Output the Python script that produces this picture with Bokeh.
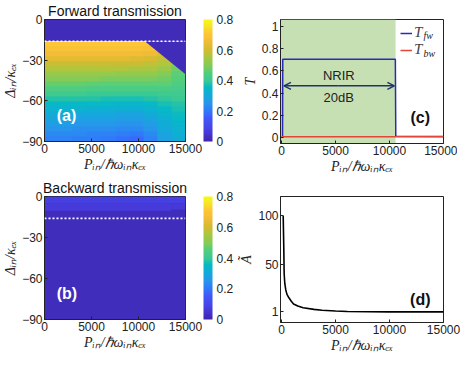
import numpy as np
from bokeh.plotting import figure
from bokeh.models import (Range1d, LinearColorMapper, ColorBar, FixedTicker, Span, Label, Title,
                          BoxAnnotation, Arrow, OpenHead, Legend, LegendItem, ColumnDataSource,
                          LinearAxis)
from bokeh.layouts import gridplot
from bokeh.transform import transform
from bokeh.embed import file_html
from bokeh.resources import INLINE

# ---------------- data ----------------
x_ticks = [0, 5000, 10000, 15000]
delta_ticks = [-90, -60, -30, 0]
cbar_ticks = [0, 0.2, 0.4, 0.6, 0.8]
t_ticks = [0, 0.2, 0.4, 0.6, 0.8, 1]
a_ticks = [1, 50, 100]

threshold_delta = -16          # white dotted line in (a) and (b)

# (a) forward transmission
fw_dark_level = 0.02           # value above the threshold and inside the wedge
fw_grid_top = -16
fw_grid_bottom = -90
fw_grid_cols_p = [0, 15000]    # extent of the grid in P_in
# rows from top (-16) to bottom (-90); 10 columns across 0..15000
fw_grid = [
    [.71, .71, .71, .71, .71, .71, .71, .70, .66, .60],
    [.69, .69, .69, .69, .69, .69, .69, .68, .64, .58],
    [.66, .66, .66, .66, .66, .66, .66, .65, .62, .56],
    [.63, .63, .63, .63, .63, .63, .62, .61, .58, .53],
    [.59, .59, .59, .59, .59, .59, .59, .58, .56, .50],
    [.56, .56, .56, .56, .56, .56, .55, .55, .53, .48],
    [.53, .53, .53, .53, .53, .52, .52, .52, .50, .46],
    [.50, .50, .50, .50, .49, .49, .49, .49, .48, .45],
    [.47, .47, .47, .46, .46, .46, .46, .46, .46, .44],
    [.44, .44, .44, .43, .43, .43, .43, .43, .43, .42],
    [.41, .41, .41, .40, .40, .40, .40, .40, .41, .41],
    [.38, .38, .38, .38, .37, .37, .37, .38, .39, .40],
    [.35, .35, .35, .35, .35, .34, .34, .35, .37, .38],
    [.33, .33, .33, .32, .32, .32, .32, .33, .35, .37],
    [.31, .31, .30, .30, .30, .29, .29, .31, .34, .36],
    [.29, .29, .28, .28, .28, .27, .27, .29, .32, .35],
    [.27, .27, .26, .26, .26, .25, .25, .27, .31, .34],
    [.25, .25, .24, .24, .24, .23, .23, .25, .30, .33],
    [.23, .23, .23, .22, .22, .21, .20, .23, .29, .32],
    [.22, .22, .21, .21, .20, .19, .18, .22, .28, .31],
]
wedge_p = [10670, 15000, 15000]
wedge_delta = [-16, -40.3, -16]

# (b) backward transmission (regions of nearly constant value)
bw_left = [0, 0, 0, 13500]
bw_right = [15000, 15000, 13500, 15000]
bw_bottom = [-90, -5, -10.5, -9.5]
bw_top = [0, 0, -5, -5]
bw_value = [0.022, 0.08, 0.065, 0.06]

# (c) transmissions
tfw_p = [0, 90, 110, 10540, 10580, 15000]
tfw = [0.0, 0.0, 0.705, 0.705, 0.01, 0.008]
tbw_p = [0, 15000]
tbw = [0.004, 0.004]
nrir_start, nrir_end = -100, 10560

# (d) amplification factor
a_p = [150, 200, 240, 300, 390, 500, 680, 900, 1110, 1500, 2000, 3000, 3750, 5000, 6100, 8000, 10000, 12000, 15000]
a_val = [100, 70, 40, 30, 23.6, 19, 15.5, 12, 9.1, 7, 5.2, 3.5, 2.6, 1.8, 1.3, 1.1, 1.0, 1.0, 1.0]

# ---------------- palette (parula-like) ----------------
anch = [
    (0.000, (0.2422, 0.1504, 0.6603)), (0.0635, (0.2706, 0.2147, 0.8364)),
    (0.127, (0.2803, 0.2782, 0.9221)), (0.190, (0.2586, 0.3408, 0.9790)),
    (0.254, (0.1847, 0.4796, 0.9810)), (0.317, (0.1540, 0.5902, 0.9218)),
    (0.381, (0.0704, 0.6700, 0.8492)), (0.444, (0.0238, 0.7238, 0.7702)),
    (0.492, (0.2161, 0.7843, 0.5923)), (0.571, (0.3402, 0.8083, 0.4738)),
    (0.619, (0.5044, 0.7993, 0.3480)), (0.698, (0.6795, 0.7785, 0.2438)),
    (0.746, (0.8185, 0.7327, 0.1882)), (0.825, (0.9500, 0.7390, 0.2160)),
    (0.889, (0.9966, 0.7785, 0.2165)), (0.952, (0.9597, 0.9028, 0.1528)),
    (1.000, (0.9769, 0.9839, 0.0805)),
]
ap = np.array([a[0] for a in anch]); ac = np.array([a[1] for a in anch])
pal = []
for f in np.linspace(0, 1, 256):
    rgb = [np.interp(f, ap, ac[:, k]) for k in range(3)]
    pal.append("#%02x%02x%02x" % tuple(int(round(255 * c)) for c in rgb))

mapper = LinearColorMapper(palette=pal, low=0, high=0.8)

TICK_FONT = "Liberation Sans"
LAB_FONT = "Liberation Serif"
XLABEL = "P\u1d62\u2099/\u210f\u03c9\u1d62\u2099\u03ba\u2091\u2093"
DLABEL = "\u0394\u1d62\u2099/\u03ba\u2091\u2093"


def style(p, xlabel, ylabel):
    p.outline_line_color = "#222222"
    p.grid.visible = False
    for ax in (p.xaxis[0], p.yaxis[0]):
        ax.major_label_text_font = TICK_FONT
        ax.major_label_text_font_size = "12px"
        ax.major_label_text_color = "#222222"
        ax.axis_label_text_font = LAB_FONT
        ax.axis_label_text_font_style = "italic"
        ax.axis_label_text_font_size = "14px"
        ax.axis_label_text_color = "#222222"
        ax.major_tick_in = 3
        ax.major_tick_out = 0
        ax.minor_tick_line_color = None
        ax.axis_line_color = "#222222"
        ax.major_tick_line_color = "#222222"
        ax.axis_label_standoff = 1
        ax.major_label_standoff = 2
    p.xaxis.axis_label = xlabel
    p.yaxis.axis_label = ylabel


def heat_fig(title, fh):
    p = figure(frame_width=141, frame_height=fh, x_range=Range1d(0, 15000),
               y_range=Range1d(-90, 0), output_backend="svg", toolbar_location=None,
               min_border_left=38, min_border_right=40, min_border_top=14, min_border_bottom=36)
    style(p, XLABEL, DLABEL)
    p.xaxis.ticker = FixedTicker(ticks=x_ticks)
    p.yaxis.ticker = FixedTicker(ticks=delta_ticks)
    p.add_layout(Title(text=title, align="center", text_font=TICK_FONT, text_font_size="14px",
                       text_font_style="normal", text_color="#111111", standoff=1), "above")
    # invisible spacer between the frame and the colour bar
    spacer = LinearAxis(ticker=FixedTicker(ticks=[]), axis_label=" ",
                        axis_label_text_font_size="1px", axis_label_standoff=14,
                        axis_line_color=None, major_tick_line_color=None,
                        minor_tick_line_color=None)
    p.add_layout(spacer, "right")
    cb = ColorBar(color_mapper=mapper, ticker=FixedTicker(ticks=cbar_ticks), width=9,
                  padding=0, margin=0, label_standoff=4,
                  major_label_text_font=TICK_FONT,
                  major_label_text_font_size="12px", major_label_text_color="#222222",
                  major_tick_line_color=None, bar_line_color=None, border_line_color=None,
                  background_fill_alpha=0, major_label_overrides={0: "0"})
    p.add_layout(cb, "right")
    return p


# ---- (a)
pa = heat_fig("Forward transmission", 122)
pa.quad(left=fw_grid_cols_p[0], right=fw_grid_cols_p[1], bottom=fw_grid_top, top=0,
        fill_color=transform("v", mapper), line_color=None,
        source=ColumnDataSource(dict(v=[fw_dark_level])))
pa.image(image=[np.array(fw_grid)[::-1]], x=fw_grid_cols_p[0], y=fw_grid_bottom,
         dw=fw_grid_cols_p[1] - fw_grid_cols_p[0], dh=fw_grid_top - fw_grid_bottom,
         color_mapper=mapper)
pa.patches(xs="xs", ys="ys", fill_color=transform("v", mapper), line_color=None,
           source=ColumnDataSource(dict(xs=[wedge_p], ys=[wedge_delta], v=[fw_dark_level])))
pa.add_layout(Span(location=threshold_delta, dimension="width", line_color="white",
                   line_width=1.6, line_dash="2 2"))
pa.add_layout(Label(x=1300, y=-71, text="(a)", text_baseline="middle", text_font=TICK_FONT,
                    text_font_style="bold", text_font_size="16px", text_color="white"))

# ---- (b)
pb = heat_fig("Backward transmission", 123)
pb.quad(left="l", right="r", bottom="b", top="t", fill_color=transform("v", mapper),
        line_color=None,
        source=ColumnDataSource(dict(l=bw_left, r=bw_right, b=bw_bottom, t=bw_top, v=bw_value)))
pb.add_layout(Span(location=threshold_delta, dimension="width", line_color="white",
                   line_width=1.6, line_dash="2 2"))
pb.add_layout(Label(x=1300, y=-71, text="(b)", text_baseline="middle", text_font=TICK_FONT,
                    text_font_style="bold", text_font_size="16px", text_color="white"))

# ---- (c)
pc = figure(frame_width=163, frame_height=124, x_range=Range1d(-100, 15000),
            y_range=Range1d(-0.056, 1.064), output_backend="svg", toolbar_location=None,
            min_border_left=40, min_border_right=17, min_border_top=16, min_border_bottom=35)
style(pc, XLABEL, "T")
pc.xaxis.ticker = FixedTicker(ticks=x_ticks)
pc.yaxis.ticker = FixedTicker(ticks=t_ticks)
pc.yaxis.major_label_overrides = {0: "0", 1: "1"}
pc.add_layout(BoxAnnotation(left=nrir_start, right=nrir_end, fill_color="#c6e0b4",
                            fill_alpha=1.0, line_color=None, level="underlay"))
r_fw = pc.line(tfw_p, tfw, line_color="#2a2ab8", line_width=1.5)
r_bw = pc.line(tbw_p, tbw, line_color="#e0463a", line_width=1.5)
for xe in (10450, 220):
    pc.add_layout(Arrow(x_start=5300, x_end=xe, y_start=0.465, y_end=0.465,
                        end=OpenHead(size=7, line_color="#1f3568", line_width=1.4),
                        line_color="#1f3568", line_width=1.4))
pc.add_layout(Label(x=5300, y=0.56, text="NRIR", text_align="center", text_baseline="middle",
                    text_font=TICK_FONT, text_font_size="13px", text_color="#222222"))
pc.add_layout(Label(x=5300, y=0.36, text="20dB", text_align="center", text_baseline="middle",
                    text_font=TICK_FONT, text_font_size="13px", text_color="#222222"))
pc.add_layout(Label(x=12850, y=0.18, text="(c)", text_align="center", text_baseline="middle",
                    text_font=TICK_FONT, text_font_style="bold", text_font_size="16px",
                    text_color="#111111"))
leg = Legend(items=[LegendItem(label="T", renderers=[r_fw]), LegendItem(label="T", renderers=[r_bw])],
             location=(118, 83), padding=2, spacing=0, margin=0, glyph_width=12,
             glyph_height=14, label_height=14, label_standoff=2, label_text_font=LAB_FONT,
             label_text_font_style="italic", label_text_font_size="15px",
             background_fill_alpha=0, border_line_alpha=0)
pc.add_layout(leg)
for yy, sub in ((108, "fw"), (90, "bw")):
    pc.add_layout(Label(x=143, y=yy, x_units="screen", y_units="screen", text=sub,
                        text_baseline="middle", text_font=LAB_FONT, text_font_style="italic",
                        text_font_size="10px", text_color="#222222"))

# ---- (d)
pd_ = figure(frame_width=163, frame_height=126, x_range=Range1d(-100, 15000),
             y_range=Range1d(-10, 120), output_backend="svg", toolbar_location=None,
             min_border_left=40, min_border_right=17, min_border_top=15, min_border_bottom=35)
style(pd_, XLABEL, "\u00c3")
pd_.xaxis.ticker = FixedTicker(ticks=x_ticks)
pd_.yaxis.ticker = FixedTicker(ticks=a_ticks)
pd_.line(a_p, a_val, line_color="black", line_width=1.6)
pd_.add_layout(Label(x=12850, y=14, text="(d)", text_align="center", text_baseline="middle",
                     text_font=TICK_FONT, text_font_style="bold", text_font_size="16px",
                     text_color="#111111"))

grid = gridplot([[pa, pc], [pb, pd_]], toolbar_location=None)
open("out.html", "w").write(file_html(grid, INLINE))
